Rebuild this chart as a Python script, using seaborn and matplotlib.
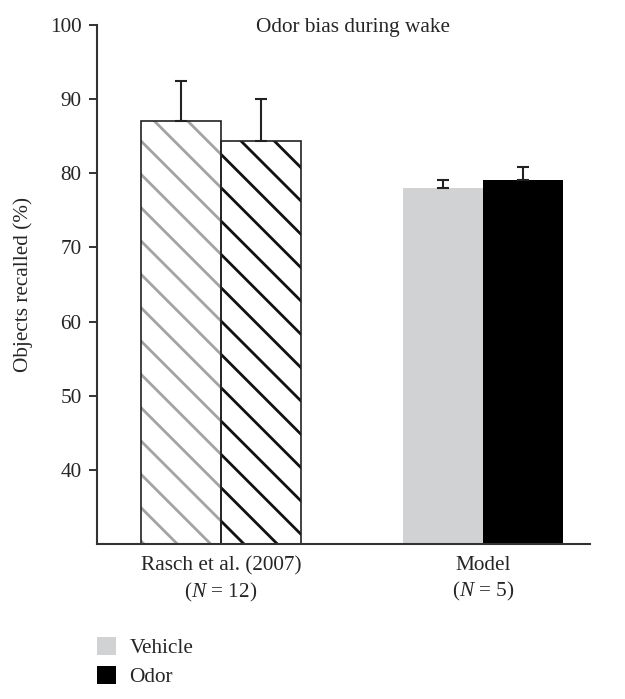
import pandas as pd
import matplotlib
matplotlib.use("Agg")
import matplotlib.pyplot as plt
import seaborn as sns
from matplotlib.patches import Patch

# data
groups = ["Rasch et al. (2007)\n($N$ = 12)", "Model\n($N$ = 5)"]
conditions = ["Vehicle", "Odor"]
vehicle_mean = [87.0, 78.0]
odor_mean = [84.4, 79.1]
vehicle_err = [5.4, 1.1]
odor_err = [5.6, 1.7]

df = pd.DataFrame({
    "group": groups * 2,
    "condition": ["Vehicle"] * 2 + ["Odor"] * 2,
    "value": vehicle_mean + odor_mean,
    "err": vehicle_err + odor_err,
})

sns.set_style("ticks")
plt.rcParams["font.family"] = ["Liberation Serif", "DejaVu Serif"]
plt.rcParams["mathtext.fontset"] = "custom"
plt.rcParams["mathtext.rm"] = "Liberation Serif"
plt.rcParams["mathtext.it"] = "Liberation Serif:italic"
plt.rcParams["hatch.linewidth"] = 2.0

DPI = 100
FS = 15.3
fig = plt.figure(figsize=(625 / DPI, 699 / DPI), dpi=DPI)
ax = fig.add_axes([0.155, 0.222, 0.789, 0.742])

palette = {"Vehicle": "#d1d2d4", "Odor": "#000000"}
sns.barplot(data=df, x="group", y="value", hue="condition", hue_order=conditions,
            palette=palette, errorbar=None, width=0.61, legend=False,
            linewidth=0, ax=ax)

# bars come out in hue order: Vehicle (Rasch, Model), Odor (Rasch, Model)
bars = ax.patches[:4]
hatch_cols = ["#a3a3a3", None, "#111111", None]
for bar, hc in zip(bars, hatch_cols):
    if hc is not None:
        bar.set_facecolor("white")
        bar.set_edgecolor(hc)
        bar.set_hatch("\\")
        bar.set_linewidth(0)
        # black outline on top
        ax.add_patch(plt.Rectangle(bar.get_xy(), bar.get_width(), bar.get_height(),
                                   fill=False, edgecolor="#222222", linewidth=1.2,
                                   zorder=bar.get_zorder() + 0.1))

# upper error bars only
xs = [b.get_x() + b.get_width() / 2 for b in bars]
vals = vehicle_mean + odor_mean
errs = vehicle_err + odor_err
ax.errorbar(xs, vals, yerr=[[0] * 4, errs], fmt="none", ecolor="#222222",
            elinewidth=1.5, capsize=4.5, capthick=1.5, zorder=1)

ax.set_ylim(30, 100)
ax.set_xlim(-0.473, 1.408)
ax.set_yticks([40, 50, 60, 70, 80, 90, 100])
ax.set_ylabel("Objects recalled (%)", fontsize=FS, labelpad=12)
ax.set_xlabel("")
ax.tick_params(axis="y", length=6, width=1.4, pad=5, labelsize=FS, color="#333333")
ax.tick_params(axis="x", length=0, pad=9, labelsize=FS)
for lab in ax.get_xticklabels():
    lab.set_linespacing(1.3)
sns.despine(ax=ax)
for s in ["left", "bottom"]:
    ax.spines[s].set_linewidth(1.5)
    ax.spines[s].set_color("#333333")

ax.text(0.52, 0.995, "Odor bias during wake", transform=ax.transAxes,
        ha="center", va="center", fontsize=FS)

handles = [Patch(facecolor=palette[c], edgecolor="none") for c in conditions]
fig.legend(handles, conditions, loc="upper left", bbox_to_anchor=(0.155, 0.089),
           frameon=False, fontsize=FS, handlelength=0.91, handleheight=0.91,
           handletextpad=0.62, labelspacing=0.37, borderaxespad=0, borderpad=0)

plt.savefig("out.png", dpi=DPI)
